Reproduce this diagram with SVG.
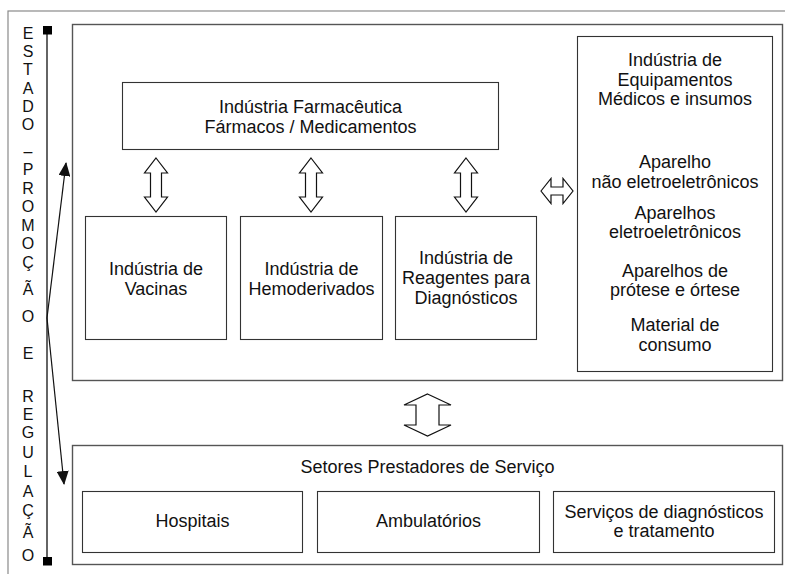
<svg xmlns="http://www.w3.org/2000/svg" width="785" height="574" viewBox="0 0 785 574">
<defs>
<style>
.t{font-family:"Liberation Sans",Arial,sans-serif;font-size:18px;fill:#111;text-anchor:middle}
.v{font-family:"Liberation Sans",Arial,sans-serif;font-size:16px;fill:#111;text-anchor:middle}
.frame{fill:none;stroke:#8a8a8a;stroke-width:1.2}
.big{fill:#fff;stroke:#555;stroke-width:1.4}
.box{fill:#fff;stroke:#333;stroke-width:1.1}
.dbl{fill:#fff;stroke:#111;stroke-width:1.2;stroke-linejoin:miter}
.ln{fill:none;stroke:#111;stroke-width:1.2}
</style>
<marker id="ah" markerWidth="14" markerHeight="12" refX="13" refY="6" orient="auto" markerUnits="userSpaceOnUse">
<path d="M0,0 L14,6 L0,12 Z" fill="#111"/>
</marker>
</defs>
<rect width="785" height="574" fill="#fff"/>
<rect class="frame" x="8" y="11" width="790" height="580"/>

<g id="estado">
<line x1="47" y1="30" x2="47" y2="561" stroke="#111" stroke-width="1.3"/>
<rect x="43" y="26" width="9" height="8.5" fill="#000"/>
<rect x="43" y="557" width="9" height="8.5" fill="#000"/>
<text class="v" x="28" y="39">E</text>
<text class="v" x="28" y="57">S</text>
<text class="v" x="28" y="75">T</text>
<text class="v" x="28" y="94">A</text>
<text class="v" x="28" y="112">D</text>
<text class="v" x="28" y="130">O</text>
<text class="v" x="28" y="157">–</text>
<text class="v" x="28" y="175">P</text>
<text class="v" x="28" y="194">R</text>
<text class="v" x="28" y="212">O</text>
<text class="v" x="28" y="231">M</text>
<text class="v" x="28" y="249">O</text>
<text class="v" x="28" y="268">Ç</text>
<text class="v" x="28" y="295">Ã</text>
<text class="v" x="28" y="322">O</text>
<text class="v" x="28" y="359">E</text>
<text class="v" x="28" y="402">R</text>
<text class="v" x="28" y="420">E</text>
<text class="v" x="28" y="438">G</text>
<text class="v" x="28" y="458">U</text>
<text class="v" x="28" y="477">L</text>
<text class="v" x="28" y="497">A</text>
<text class="v" x="28" y="516">Ç</text>
<text class="v" x="28" y="538">Ã</text>
<text class="v" x="28" y="561">O</text>
</g>

<g id="industria">
<rect class="big" x="72.5" y="24.5" width="710" height="356"/>
</g>

<g id="setores">
<rect class="big" x="72.5" y="445.5" width="710" height="119"/>
<text class="t" x="427.5" y="473">Setores Prestadores de Serviço</text>
</g>

<g id="farmaceutica">
<rect class="box" x="122.5" y="82.5" width="376" height="67"/>
<text class="t" x="310.5" y="113">Indústria Farmacêutica</text>
<text class="t" x="310.5" y="133">Fármacos / Medicamentos</text>
</g>

<g id="vacinas">
<rect class="box" x="85.5" y="216.5" width="141" height="123"/>
<text class="t" x="156" y="275">Indústria de</text>
<text class="t" x="156" y="295">Vacinas</text>
</g>

<g id="hemoderivados">
<rect class="box" x="240.5" y="216.5" width="142" height="123"/>
<text class="t" x="311.5" y="275">Indústria de</text>
<text class="t" x="311.5" y="295">Hemoderivados</text>
</g>

<g id="reagentes">
<rect class="box" x="395.5" y="216.5" width="141" height="123"/>
<text class="t" x="466" y="264">Indústria de</text>
<text class="t" x="466" y="284">Reagentes para</text>
<text class="t" x="466" y="304">Diagnósticos</text>
</g>

<g id="equipamentos">
<rect class="box" x="577.5" y="36.5" width="195" height="335"/>
<text class="t" x="675" y="66">Indústria de</text>
<text class="t" x="675" y="85.5">Equipamentos</text>
<text class="t" x="675" y="105">Médicos e insumos</text>
<text class="t" x="675" y="168">Aparelho</text>
<text class="t" x="675" y="188">não eletroeletrônicos</text>
<text class="t" x="675" y="219">Aparelhos</text>
<text class="t" x="675" y="238">eletroeletrônicos</text>
<text class="t" x="675" y="277">Aparelhos de</text>
<text class="t" x="675" y="296">prótese e órtese</text>
<text class="t" x="675" y="331">Material de</text>
<text class="t" x="675" y="351">consumo</text>
</g>

<g id="hospitais">
<rect class="box" x="82.5" y="491.5" width="220" height="61"/>
<text class="t" x="192.5" y="527">Hospitais</text>
</g>

<g id="ambulatorios">
<rect class="box" x="317.5" y="491.5" width="222" height="61"/>
<text class="t" x="428.5" y="527">Ambulatórios</text>
</g>

<g id="servicos">
<rect class="box" x="553.5" y="491.5" width="221" height="61"/>
<text class="t" x="664" y="518">Serviços de diagnósticos</text>
<text class="t" x="664" y="537">e tratamento</text>
</g>

<g id="connectors">
<line class="ln" x1="47" y1="318" x2="66" y2="163" marker-end="url(#ah)"/>
<line class="ln" x1="47" y1="318" x2="64" y2="484" marker-end="url(#ah)"/>
<path class="dbl" d="M156,158 L167.5,173 L161.5,173 L161.5,197 L167.5,197 L156,212 L144.5,197 L150.5,197 L150.5,173 L144.5,173 Z"/>
<path class="dbl" d="M311,158 L322.5,173 L316.5,173 L316.5,197 L322.5,197 L311,212 L299.5,197 L305.5,197 L305.5,173 L299.5,173 Z"/>
<path class="dbl" d="M466,158 L477.5,173 L471.5,173 L471.5,197 L477.5,197 L466,212 L454.5,197 L460.5,197 L460.5,173 L454.5,173 Z"/>
<path class="dbl" d="M541,191 L551,178.5 L551,187 L563,187 L563,178.5 L573,191 L563,203.5 L563,195 L551,195 L551,203.5 Z"/>
<path class="dbl" d="M427.5,394 L451,405 L439,405 L439,425 L451,425 L427.5,436 L404,425 L416,425 L416,405 L404,405 Z"/>
</g>
</svg>
